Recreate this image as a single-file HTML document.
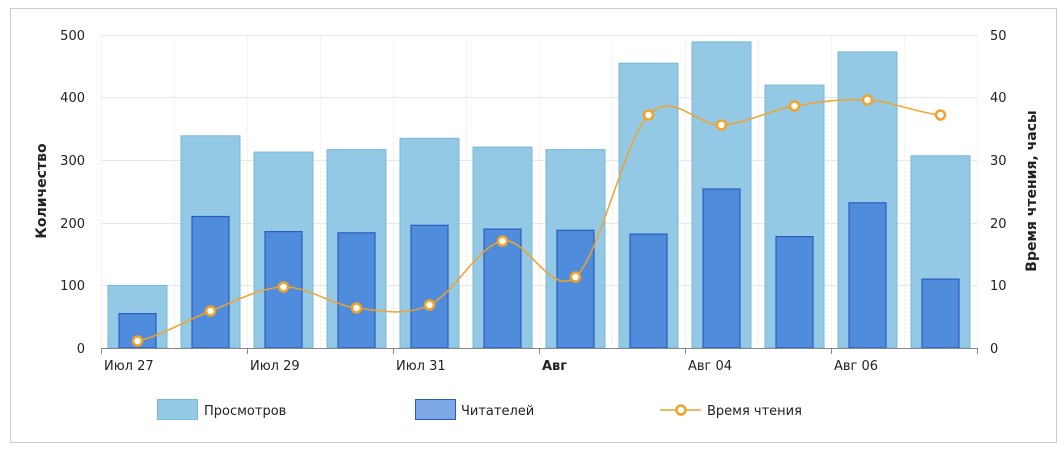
<!DOCTYPE html>
<html><head><meta charset="utf-8"><style>
html,body{margin:0;padding:0;background:#fff;width:1064px;height:449px;overflow:hidden}
text{font-family:"DejaVu Sans","Liberation Sans",sans-serif;font-size:13px;fill:#222}
</style></head><body>
<svg width="1064" height="449" xmlns="http://www.w3.org/2000/svg">
<rect x="10.5" y="8.5" width="1046" height="434" fill="#fff" stroke="#ccc"/>
<g stroke="#e6e6e6" stroke-width="1">
<line x1="101" y1="35.5" x2="977" y2="35.5"/><line x1="101" y1="97.5" x2="977" y2="97.5"/><line x1="101" y1="160.5" x2="977" y2="160.5"/><line x1="101" y1="223.5" x2="977" y2="223.5"/><line x1="101" y1="285.5" x2="977" y2="285.5"/>
</g>
<g stroke="#ececec" stroke-dasharray="2,2">
<line x1="174.5" y1="35" x2="174.5" y2="348"/><line x1="247.5" y1="35" x2="247.5" y2="348"/><line x1="320.5" y1="35" x2="320.5" y2="348"/><line x1="393.5" y1="35" x2="393.5" y2="348"/><line x1="466.5" y1="35" x2="466.5" y2="348"/><line x1="539.5" y1="35" x2="539.5" y2="348"/><line x1="612.5" y1="35" x2="612.5" y2="348"/><line x1="685.5" y1="35" x2="685.5" y2="348"/><line x1="758.5" y1="35" x2="758.5" y2="348"/><line x1="831.5" y1="35" x2="831.5" y2="348"/><line x1="904.5" y1="35" x2="904.5" y2="348"/><line x1="977.5" y1="35" x2="977.5" y2="348"/><line x1="101.5" y1="35" x2="101.5" y2="348"/>
</g>
<g fill="#93c9e4" stroke="#78b8d8">
<rect x="108" y="285.4" width="59" height="62.6"/>
<rect x="181" y="135.8" width="59" height="212.2"/>
<rect x="254" y="152.1" width="59" height="195.9"/>
<rect x="327" y="149.6" width="59" height="198.4"/>
<rect x="400" y="138.3" width="59" height="209.7"/>
<rect x="473" y="147.1" width="59" height="200.9"/>
<rect x="546" y="149.6" width="59" height="198.4"/>
<rect x="619" y="63.2" width="59" height="284.8"/>
<rect x="692" y="41.9" width="59" height="306.1"/>
<rect x="765" y="85.1" width="59" height="262.9"/>
<rect x="838" y="51.9" width="59" height="296.1"/>
<rect x="911" y="155.8" width="59" height="192.2"/>
</g>
<g fill="#4f8cdc" stroke="#2a5cbf" stroke-width="1.2">
<rect x="119" y="313.6" width="37" height="34.4"/>
<rect x="192" y="216.5" width="37" height="131.5"/>
<rect x="265" y="231.6" width="37" height="116.4"/>
<rect x="338" y="232.8" width="37" height="115.2"/>
<rect x="411" y="225.3" width="37" height="122.7"/>
<rect x="484" y="229.1" width="37" height="118.9"/>
<rect x="557" y="230.3" width="37" height="117.7"/>
<rect x="630" y="234.1" width="37" height="113.9"/>
<rect x="703" y="189" width="37" height="159"/>
<rect x="776" y="236.6" width="37" height="111.4"/>
<rect x="849" y="202.8" width="37" height="145.2"/>
<rect x="922" y="279.1" width="37" height="68.9"/>
</g>
<g stroke="#888" stroke-width="1">
<line x1="101" y1="348.5" x2="977" y2="348.5"/>
<line x1="101.5" y1="348" x2="101.5" y2="354"/><line x1="247.5" y1="348" x2="247.5" y2="354"/><line x1="393.5" y1="348" x2="393.5" y2="354"/><line x1="539.5" y1="348" x2="539.5" y2="354"/><line x1="685.5" y1="348" x2="685.5" y2="354"/><line x1="831.5" y1="348" x2="831.5" y2="354"/><line x1="977.5" y1="348" x2="977.5" y2="354"/>
</g>
<path fill="none" stroke="#f0a22a" stroke-width="1.5" d="M137.5,341 C161.8,336 186.2,320 210.5,311 C234.8,302 259.2,287.5 283.5,287 C307.8,286.5 332.2,305 356.5,308 C380.8,311 405.2,316.2 429.5,305 C453.8,293.8 478.2,245.7 502.5,241 C526.8,236.3 551.2,298 575.5,277 C599.8,256 624.2,140.3 648.5,115 C672.8,89.7 697.2,126.5 721.5,125 C745.8,123.5 770.2,110.2 794.5,106 C818.8,101.8 843.2,98.5 867.5,100 C891.8,101.5 916.2,112.5 940.5,115"/>
<g fill="#fff" stroke="#f0a22a" stroke-width="2.5">
<circle cx="137.5" cy="341" r="4.5"/><circle cx="210.5" cy="311" r="4.5"/><circle cx="283.5" cy="287" r="4.5"/><circle cx="356.5" cy="308" r="4.5"/><circle cx="429.5" cy="305" r="4.5"/><circle cx="502.5" cy="241" r="4.5"/><circle cx="575.5" cy="277" r="4.5"/><circle cx="648.5" cy="115" r="4.5"/><circle cx="721.5" cy="125" r="4.5"/><circle cx="794.5" cy="106" r="4.5"/><circle cx="867.5" cy="100" r="4.5"/><circle cx="940.5" cy="115" r="4.5"/>
</g>
<g text-anchor="end">
<text x="85" y="40">500</text><text x="85" y="102">400</text><text x="85" y="165">300</text><text x="85" y="228">200</text><text x="85" y="290">100</text><text x="85" y="353">0</text>
</g>
<g>
<text x="990" y="40">50</text><text x="990" y="102">40</text><text x="990" y="165">30</text><text x="990" y="228">20</text><text x="990" y="290">10</text><text x="990" y="353">0</text>
</g>
<g>
<text x="104" y="370">Июл 27</text><text x="250" y="370">Июл 29</text><text x="396" y="370">Июл 31</text><text x="542" y="370" font-weight="bold">Авг</text><text x="688" y="370">Авг 04</text><text x="834" y="370">Авг 06</text>
</g>
<text transform="translate(46,191) rotate(-90)" text-anchor="middle" font-weight="bold" style="font-size:14px">Количество</text>
<text transform="translate(1036,191) rotate(-90)" text-anchor="middle" font-weight="bold" style="font-size:14px">Время чтения, часы</text>
<rect x="157.5" y="399.5" width="40" height="20" fill="#93c9e4" stroke="#78b8d8"/>
<text x="204" y="415">Просмотров</text>
<rect x="415.5" y="399.5" width="40" height="20" fill="#7fa8e8" stroke="#2a5cbf"/>
<text x="461" y="415">Читателей</text>
<line x1="660" y1="410" x2="701" y2="410" stroke="#f0a22a" stroke-width="1.5"/>
<circle cx="681" cy="410" r="4.5" fill="#fff" stroke="#f0a22a" stroke-width="2.5"/>
<text x="707" y="415">Время чтения</text>
</svg>
</body></html>
